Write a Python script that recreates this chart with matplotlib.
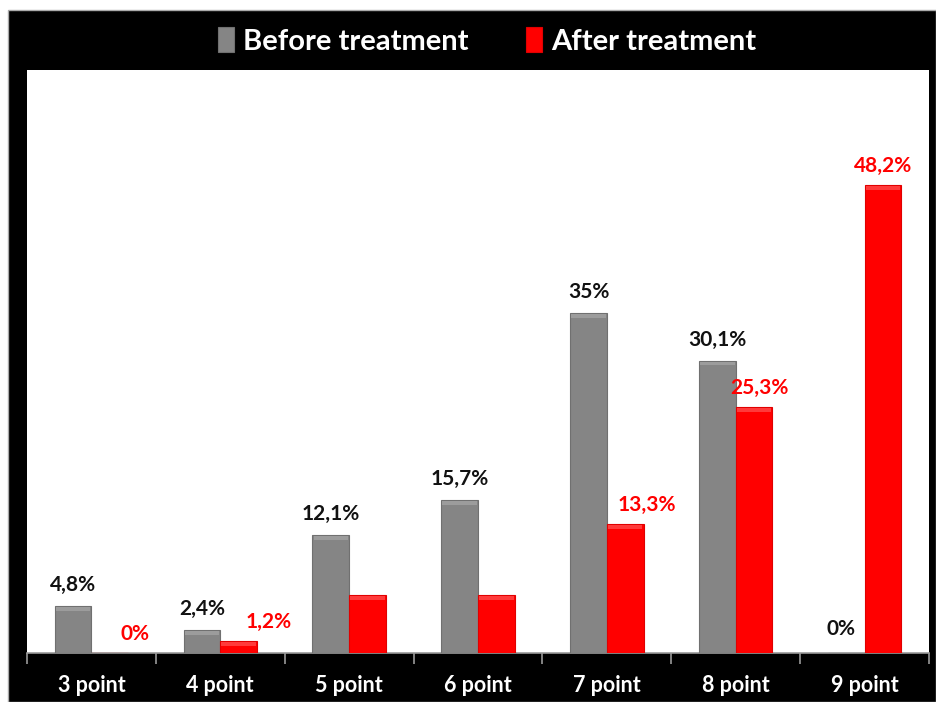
import numpy as np
import matplotlib
matplotlib.use("Agg")
import matplotlib.pyplot as plt
from matplotlib.patches import Rectangle

plt.rcParams['font.family'] = ['Lato', 'DejaVu Sans']

# data (percent)
categories = ['3 point', '4 point', '5 point', '6 point', '7 point', '8 point', '9 point']
before = [4.8, 2.4, 12.1, 15.7, 35.0, 30.1, 0.0]
after = [0.0, 1.2, 6.0, 6.0, 13.3, 25.3, 48.2]
after_shown = [True, True, False, False, True, True, True]

# label x-shifts for the red values (pixels)
after_dx = [25, 30, 0, 0, 22, 5, 0]

gray = '#858585'
red = '#ff0000'

def fmt(v):
    return '{:g}%'.format(v).replace('.', ',')

fig = plt.figure(figsize=(9.36, 7.02), dpi=100, facecolor='white')
# black frame behind the plot
frame = Rectangle((8 / 936, 0), 1 - 8 / 936, 1 - 10 / 702,
                  transform=fig.transFigure, facecolor='black',
                  edgecolor='#aaaaaa', lw=1, zorder=-5)
fig.add_artist(frame)

ax = fig.add_axes([27 / 936, 49 / 702, (929 - 27) / 936, (653 - 70) / 702])
ax.set_zorder(2)
ax.set_facecolor('white')

x = np.arange(len(categories))
w = 0.285
b1 = ax.bar(x - w / 2, before, w, color=gray, edgecolor='#707070', lw=0.8,
            label='Before treatment', zorder=3)
b2 = ax.bar(x + w / 2, after, w, color=red, edgecolor='#e00000', lw=0.8,
            label='After treatment', zorder=3)

# soft light cap on the top of each bar (bevel look)
for bars, cap in [(b1, '#9c9c9c'), (b2, '#ff3a3a')]:
    for r in bars:
        if r.get_height() > 0.3:
            ax.bar(r.get_x() + r.get_width() / 2, 0.4, r.get_width() * 0.94,
                   bottom=r.get_height() - 0.5, color=cap, lw=0, zorder=4)

for i, v in enumerate(before):
    dx = -5 if v == 0 else 0
    ax.annotate(fmt(v), (x[i] - w / 2, v), xytext=(dx, 11 if v else 14),
                textcoords='offset pixels', ha='center', va='bottom',
                fontsize=15, fontweight='bold', color='#111111')

for i, v in enumerate(after):
    if not after_shown[i]:
        continue
    ax.annotate(fmt(v), (x[i] + w / 2, v), xytext=(after_dx[i], 9),
                textcoords='offset pixels', ha='center', va='bottom',
                fontsize=15, fontweight='bold', color=red)

ax.set_xlim(-0.5, len(categories) - 0.5)
ax.set_ylim(0, 60)
ax.set_yticks([])
ax.set_xticks(x)
ax.set_xticklabels(categories, fontsize=15.5, fontweight='bold', color='white')
ax.set_xticks(np.arange(len(categories) + 1) - 0.5, minor=True)
ax.tick_params(axis='x', which='major', length=0, pad=16)
ax.tick_params(axis='x', which='minor', length=8, color='#999999', width=1.2)
for s in ['top', 'left', 'right']:
    ax.spines[s].set_visible(False)
ax.spines['bottom'].set_color('#999999')
ax.spines['bottom'].set_linewidth(1.2)

leg = fig.legend(handles=[b1, b2], loc='center', bbox_to_anchor=(487 / 936, 1 - 41 / 702),
                 ncol=2, frameon=False, handlelength=0.55, handleheight=0.95,
                 handletextpad=0.3, columnspacing=2.0,
                 prop={'size': 21, 'weight': 'bold'})
leg.set_zorder(5)
for t in leg.get_texts():
    t.set_color('white')

plt.savefig('out.png', dpi=100, facecolor=fig.get_facecolor())
